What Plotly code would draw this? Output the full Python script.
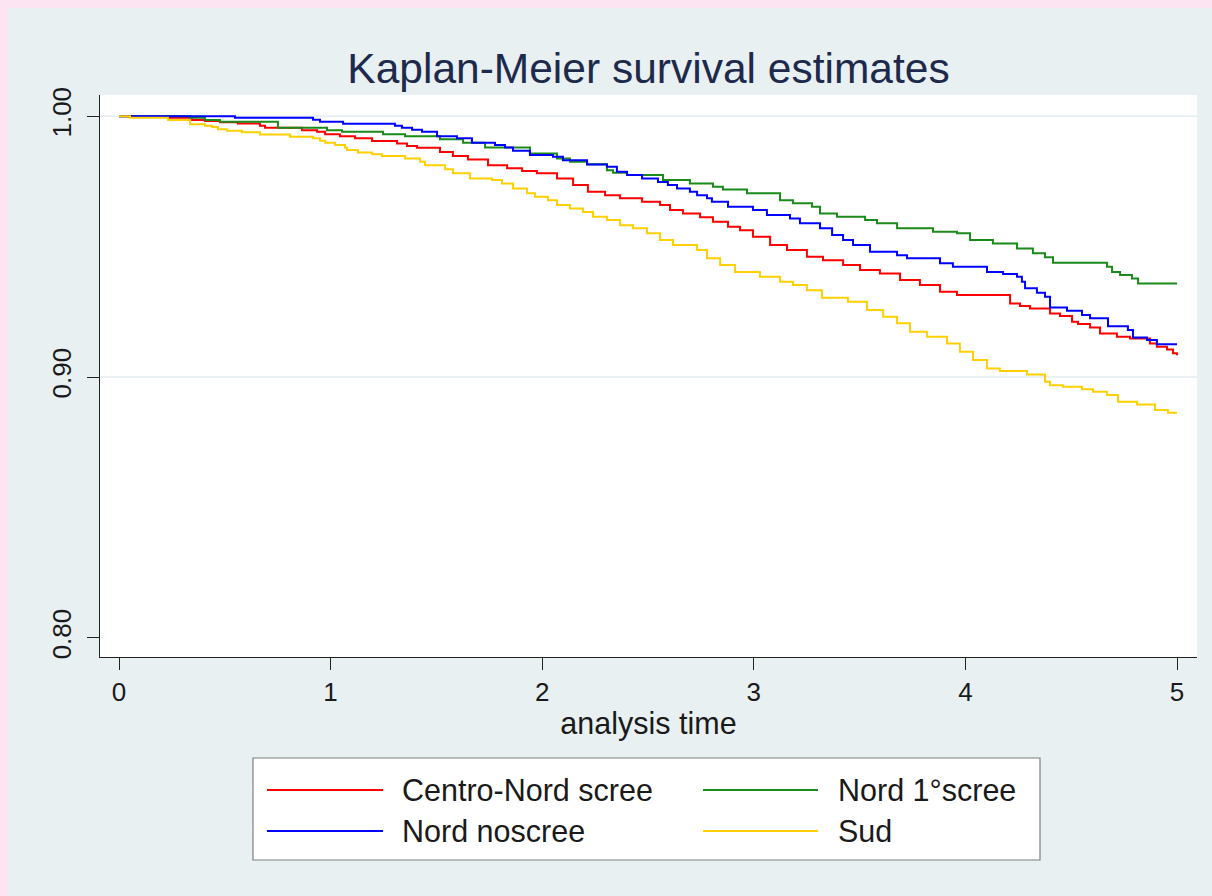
import plotly.graph_objects as go

# ---------------- data ----------------
groups = ["Centro-Nord scree", "Nord 1°scree", "Nord noscree", "Sud"]
colors = ["#FF0000", "#1A8A1A", "#0000FF", "#FFD000"]

t_centro = [0, 0.241, 0.345, 0.406, 0.477, 0.562, 0.666, 0.690, 0.865, 0.936, 0.974, 1.044, 1.115, 1.196,
            1.314, 1.361, 1.408, 1.517, 1.578, 1.649, 1.744, 1.834, 1.905, 1.975, 2.070, 2.146, 2.216, 2.297,
            2.368, 2.472, 2.557, 2.604, 2.665, 2.746, 2.807, 2.878, 2.935, 2.996, 3.077, 3.157, 3.251, 3.327,
            3.422, 3.502, 3.596, 3.691, 3.785, 3.880, 3.960, 4.211, 4.258, 4.305, 4.400, 4.447, 4.504, 4.532,
            4.589, 4.636, 4.716, 4.778, 4.872, 4.905, 4.953, 4.981, 5.0]
s_centro = [1.0, 0.9994, 0.9985, 0.9981, 0.9977, 0.9972, 0.9963, 0.9955, 0.9946, 0.9940, 0.9931, 0.9923, 0.9915,
            0.9905, 0.9895, 0.9886, 0.9879, 0.9863, 0.9847, 0.9834, 0.9812, 0.9800, 0.9790, 0.9781, 0.9761, 0.9736,
            0.9710, 0.9697, 0.9685, 0.9672, 0.9659, 0.9640, 0.9627, 0.9612, 0.9595, 0.9576, 0.9563, 0.9538, 0.9506,
            0.9487, 0.9461, 0.9448, 0.9429, 0.9410, 0.9397, 0.9372, 0.9353, 0.9327, 0.9314, 0.9282, 0.9272, 0.9263,
            0.9244, 0.9234, 0.9212, 0.9203, 0.9190, 0.9167, 0.9154, 0.9148, 0.9129, 0.9116, 0.9106, 0.9091, 0.9084]

t_nord1 = [0, 0.336, 0.406, 0.477, 0.751, 0.983, 1.054, 1.248, 1.352, 1.517, 1.626, 1.730, 1.942, 2.070, 2.131,
           2.212, 2.306, 2.335, 2.401, 2.571, 2.698, 2.807, 2.854, 2.968, 3.124, 3.185, 3.275, 3.313, 3.393, 3.526,
           3.582, 3.677, 3.847, 3.960, 4.022, 4.130, 4.244, 4.319, 4.376, 4.414, 4.669, 4.693, 4.731, 4.787, 4.816,
           5.0]
s_nord1 = [1.0, 0.9994, 0.9985, 0.9978, 0.9955, 0.9946, 0.9940, 0.9931, 0.9923, 0.9911, 0.9898, 0.9880, 0.9857,
           0.9838, 0.9825, 0.9816, 0.9793, 0.9783, 0.9774, 0.9755, 0.9742, 0.9729, 0.9719, 0.9704, 0.9678, 0.9666,
           0.9653, 0.9627, 0.9614, 0.9602, 0.9589, 0.9570, 0.9557, 0.9551, 0.9525, 0.9512, 0.9493, 0.9474, 0.9459,
           0.9438, 0.9423, 0.9403, 0.9391, 0.9378, 0.9359, 0.9359]

t_noscree = [0, 0.548, 0.917, 0.950, 1.059, 1.304, 1.337, 1.385, 1.432, 1.503, 1.597, 1.668, 1.777, 1.824, 1.862,
             1.942, 2.051, 2.098, 2.212, 2.306, 2.353, 2.401, 2.472, 2.547, 2.594, 2.637, 2.698, 2.732, 2.779, 2.802,
             2.878, 2.996, 3.062, 3.171, 3.218, 3.313, 3.370, 3.422, 3.469, 3.549, 3.677, 3.724, 3.880, 3.941, 4.102,
             4.178, 4.244, 4.267, 4.282, 4.338, 4.376, 4.400, 4.480, 4.551, 4.589, 4.674, 4.768, 4.792, 4.858, 4.905,
             5.0]
s_noscree = [1.0, 0.9994, 0.9986, 0.9978, 0.9971, 0.9963, 0.9955, 0.9948, 0.9940, 0.9923, 0.9915, 0.9898, 0.9889,
             0.9880, 0.9867, 0.9851, 0.9844, 0.9831, 0.9815, 0.9806, 0.9787, 0.9774, 0.9761, 0.9748, 0.9736, 0.9723,
             0.9710, 0.9697, 0.9685, 0.9672, 0.9653, 0.9640, 0.9621, 0.9608, 0.9589, 0.9570, 0.9544, 0.9525, 0.9506,
             0.9480, 0.9467, 0.9455, 0.9436, 0.9423, 0.9403, 0.9395, 0.9384, 0.9365, 0.9340, 0.9323, 0.9308, 0.9267,
             0.9254, 0.9238, 0.9225, 0.9195, 0.9180, 0.9152, 0.9142, 0.9126, 0.9126]

t_sud = [0, 0.052, 0.232, 0.336, 0.406, 0.440, 0.468, 0.510, 0.581, 0.666, 0.808, 0.917, 0.950, 0.974, 1.021,
         1.068, 1.078, 1.129, 1.196, 1.243, 1.352, 1.423, 1.446, 1.541, 1.578, 1.659, 1.763, 1.810, 1.862, 1.928,
         1.966, 2.027, 2.070, 2.131, 2.193, 2.240, 2.306, 2.368, 2.429, 2.495, 2.557, 2.618, 2.732, 2.779, 2.841,
         2.911, 3.029, 3.124, 3.185, 3.251, 3.322, 3.445, 3.535, 3.611, 3.677, 3.738, 3.819, 3.913, 3.974, 4.036,
         4.102, 4.163, 4.291, 4.376, 4.400, 4.461, 4.551, 4.603, 4.669, 4.721, 4.811, 4.896, 4.957, 5.0]
s_sud = [1.0, 0.9994, 0.9985, 0.9969, 0.9963, 0.9958, 0.9950, 0.9944, 0.9938, 0.9930, 0.9921, 0.9915, 0.9906,
         0.9898, 0.9889, 0.9879, 0.9870, 0.9861, 0.9854, 0.9847, 0.9838, 0.9825, 0.9812, 0.9796, 0.9781, 0.9761,
         0.9755, 0.9742, 0.9723, 0.9704, 0.9691, 0.9678, 0.9659, 0.9646, 0.9633, 0.9614, 0.9602, 0.9582, 0.9570,
         0.9551, 0.9525, 0.9506, 0.9487, 0.9455, 0.9429, 0.9403, 0.9384, 0.9365, 0.9353, 0.9333, 0.9304, 0.9289,
         0.9257, 0.9231, 0.9206, 0.9174, 0.9154, 0.9129, 0.9097, 0.9065, 0.9033, 0.9023, 0.9010, 0.8982, 0.8969,
         0.8963, 0.8953, 0.8944, 0.8931, 0.8905, 0.8895, 0.8874, 0.8863, 0.8863]

x_ticks = [0, 1, 2, 3, 4, 5]
y_ticks = [0.80, 0.90, 1.00]
y_ticktext = ["0.80", "0.90", "1.00"]
y_grid = [0.90, 1.00]

title_text = "Kaplan-Meier survival estimates"
x_title = "analysis time"

series_t = [t_centro, t_nord1, t_noscree, t_sud]
series_s = [s_centro, s_nord1, s_noscree, s_sud]

# ---------------- layout geometry ----------------
OFF = 8                      # page body margin (shown pink, as in the original screenshot)
W, H = 1212 - OFF, 896 - OFF
ML, MR, MT, MB = 92, 15, 87, 239
PW, PH = W - ML - MR, H - MT - MB


def px_x(px):                # page pixel -> paper x
    return (px - OFF - ML) / PW


def px_y(py):                # page pixel -> paper y
    return (H - MB - (py - OFF)) / PH


FONT = "Liberation Sans, Arial, Helvetica, sans-serif"
BG = "#E8F0F2"
PINK = "#FCE4F3"
TXT = "#1A1A1A"

fig = go.Figure()

for name, col, tt, ss in zip(groups, colors, series_t, series_s):
    fig.add_trace(go.Scatter(
        x=tt, y=ss, mode="lines", name=name,
        line=dict(color=col, width=2, shape="hv"),
        showlegend=False,
    ))

shapes = []
for g in y_grid:
    shapes.append(dict(type="line", xref="paper", yref="y", x0=0, x1=1, y0=g, y1=g,
                       line=dict(color="#E4ECEF", width=1.5), layer="below"))

# legend box (Stata style, two columns)
LX0, LX1, LY0, LY1 = 253, 1040, 758, 860
shapes.append(dict(type="rect", xref="paper", yref="paper", x0=px_x(LX0), x1=px_x(LX1), y0=px_y(LY1), y1=px_y(LY0),
                   fillcolor="white", line=dict(color="#7F7F7F", width=1.2)))
annotations = []
col_line = [(267, 383, 400), (703, 818, 836)]
row_y = [790, 831]
for i, (name, col) in enumerate(zip(groups, colors)):
    r, c = divmod(i, 2)
    x0, x1, xt = col_line[c]
    yy = row_y[r]
    shapes.append(dict(type="line", xref="paper", yref="paper", x0=px_x(x0), x1=px_x(x1),
                       y0=px_y(yy), y1=px_y(yy), line=dict(color=col, width=2)))
    annotations.append(dict(xref="paper", yref="paper", x=px_x(xt), y=px_y(yy), text=name, showarrow=False,
                            xanchor="left", yanchor="middle", font=dict(family=FONT, size=30.5, color=TXT)))

fig.update_layout(
    width=W, height=H, autosize=False,
    margin=dict(l=ML, r=MR, t=MT, b=MB, pad=0),
    paper_bgcolor=BG, plot_bgcolor="white",
    title=dict(text=title_text, x=0.5, xref="paper", xanchor="center", y=1 - (68 - OFF) / H, yref="container",
               yanchor="middle", font=dict(family=FONT, size=42.5, color="#1E2A4C")),
    shapes=shapes, annotations=annotations,
    showlegend=False,
    xaxis=dict(range=[-0.0898, 5.0945], tickmode="array", tickvals=x_ticks, ticks="outside", ticklen=12,
               tickwidth=1.2, tickcolor="#222222", showline=True, linecolor="#222222", linewidth=1.2,
               showgrid=False, zeroline=False, tickfont=dict(family=FONT, size=26, color=TXT),
               title=dict(text=x_title, standoff=6, font=dict(family=FONT, size=30.5, color=TXT))),
    yaxis=dict(range=[0.7927, 1.0081], tickmode="array", tickvals=y_ticks, ticktext=y_ticktext, tickangle=-90,
               ticks="outside", ticklen=12, tickwidth=1.2, tickcolor="#222222", showline=True,
               linecolor="#222222", linewidth=1.2, showgrid=False, zeroline=False, ticklabelstandoff=6,
               tickfont=dict(family=FONT, size=26, color=TXT)),
)

post = ("document.documentElement.style.background='%s';"
        "document.body.style.background='%s';"
        "document.body.style.margin='%dpx 0 0 %dpx';"
        "document.documentElement.style.overflow='hidden';") % (PINK, PINK, OFF, OFF)

fig.write_html("out.html", post_script=post)
